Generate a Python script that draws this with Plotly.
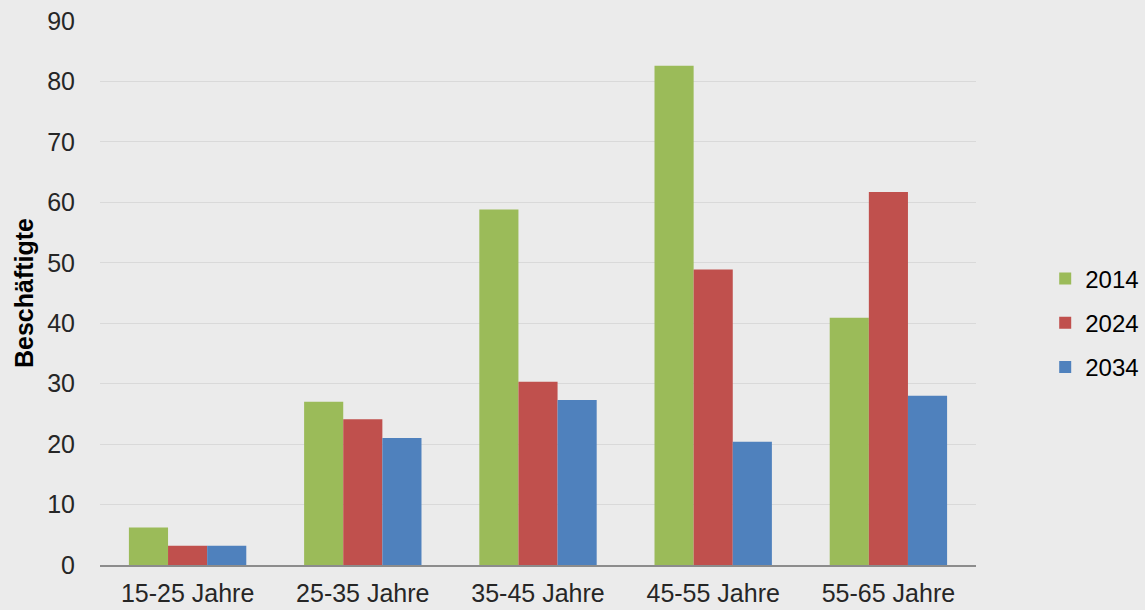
import plotly.graph_objects as go

categories = ["15-25 Jahre", "25-35 Jahre", "35-45 Jahre", "45-55 Jahre", "55-65 Jahre"]
years = ["2014", "2024", "2034"]
v2014 = [6.2, 27.0, 58.8, 82.6, 40.9]
v2024 = [3.2, 24.1, 30.3, 48.9, 61.7]
v2034 = [3.2, 21.0, 27.3, 20.4, 28.0]
colors = ["#9BBB59", "#C0504D", "#4F81BD"]

fig = go.Figure()
for i, (name, vals) in enumerate(zip(years, [v2014, v2024, v2034])):
    fig.add_trace(go.Bar(
        x=categories, y=vals, name=name, legendgroup=name,
        marker=dict(color=colors[i], line=dict(width=0)),
    ))

fig.update_layout(
    width=1145, height=610,
    margin=dict(l=100, r=169, t=21, b=45, autoexpand=False),
    paper_bgcolor="#EBEBEB", plot_bgcolor="#EBEBEB",
    barmode="group", bargap=0.33, bargroupgap=0,
    font=dict(family="Liberation Sans, Arial", size=25, color="#262626"),
    legend=dict(x=1.079, xanchor="left", y=0.445, yanchor="middle",
                font=dict(size=24, color="#000000"), tracegroupgap=10,
                bgcolor="rgba(0,0,0,0)"),
    xaxis=dict(showgrid=False, showline=True, linecolor="#8C8C8C", linewidth=2,
               ticks="", tickfont=dict(size=25), ticklabelstandoff=5),
    yaxis=dict(range=[0, 90], dtick=10, showgrid=True, gridcolor="#D9D9D9", gridwidth=1,
               zeroline=False, showline=False, ticks="", ticklabelstandoff=24,
               tickfont=dict(size=25),
               title=dict(text="Beschäftigte", font=dict(size=25, color="#000000",
                          family="Liberation Sans, Arial", weight="bold"), standoff=6)),
)
fig.write_html("out.html", config={"displayModeBar": False},
               post_script="document.body.style.margin='0';document.body.style.background='#EBEBEB';")
